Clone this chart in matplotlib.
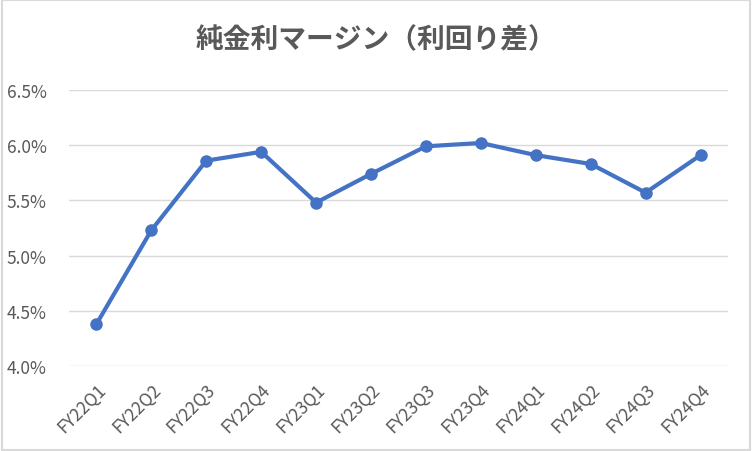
import matplotlib.pyplot as plt
from matplotlib.patches import Rectangle
from matplotlib.ticker import FuncFormatter

plt.rcParams['font.family'] = ['Noto Sans CJK JP', 'DejaVu Sans']

quarters = ["FY22Q1", "FY22Q2", "FY22Q3", "FY22Q4",
            "FY23Q1", "FY23Q2", "FY23Q3", "FY23Q4",
            "FY24Q1", "FY24Q2", "FY24Q3", "FY24Q4"]
margin = [4.38, 5.23, 5.86, 5.94, 5.48, 5.74, 5.99, 6.02, 5.91, 5.83, 5.57, 5.91]
yticks = [4.0, 4.5, 5.0, 5.5, 6.0, 6.5]

fig = plt.figure(figsize=(7.52, 4.52), dpi=100)
ax = fig.add_axes([69 / 752, 1 - 367 / 452, 659 / 752, 276 / 452])

x = list(range(len(quarters)))
ax.plot(x, margin, color="#4472C4", linewidth=3.0, marker="o", markersize=8,
        solid_capstyle="round", solid_joinstyle="round", zorder=3)

ax.set_xlim(-0.5, len(quarters) - 0.5)
ax.set_ylim(4.0, 6.5)
ax.set_yticks(yticks)
ax.yaxis.set_major_formatter(FuncFormatter(lambda v, p: f"{v:.1f}%"))
ax.set_xticks(x)
ax.set_xticklabels(quarters, rotation=45, ha="right", rotation_mode="anchor")

ax.grid(axis="y", color="#D9D9D9", linewidth=1.0)
ax.set_axisbelow(True)
for s in ax.spines.values():
    s.set_visible(False)
ax.tick_params(axis="both", length=0, colors="#595959", labelsize=12.5)
ax.tick_params(axis="y", pad=16)
ax.tick_params(axis="x", pad=10)

fig.text(0.5, 1 - 40 / 452, "純金利マージン（利回り差）", ha="center", va="center",
         fontsize=20, fontweight="bold", color="#595959")

fig.patches.append(Rectangle((0.002, 0.003), 0.996, 0.994, transform=fig.transFigure,
                             fill=False, edgecolor="#D9D9D9", linewidth=1.5))

fig.savefig("out.png", dpi=100)
